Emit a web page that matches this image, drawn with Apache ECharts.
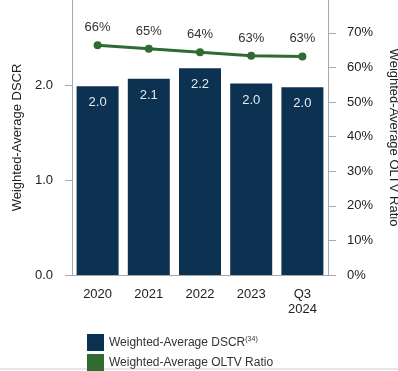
<!DOCTYPE html>
<html>
<head>
<meta charset="utf-8">
<script src="https://cdn.jsdelivr.net/npm/echarts@6/dist/echarts.min.js"></script>
<style>
  html, body { margin: 0; padding: 0; background: #fff; }
  #chart { width: 398px; height: 371px; }
</style>
</head>
<body>
<div id="chart"></div>
<script>
// data
const categories = ["2020", "2021", "2022", "2023", "Q3\n2024"];
const dscrValues = [1.99, 2.07, 2.18, 2.02, 1.98];
const oltvValues = [66.4, 65.4, 64.4, 63.4, 63.2];
const dscrTicks = [0, 1, 2];
const oltvTicks = [0, 10, 20, 30, 40, 50, 60, 70];

const font = "Liberation Sans, Arial, sans-serif";
const axisGray = "#a8a8a8";

const legendBase = {
  left: 82,
  icon: "rect",
  itemWidth: 17,
  itemHeight: 17,
  itemGap: 10,
  textStyle: {
    fontFamily: font,
    fontSize: 12,
    color: "#333",
    rich: {
      sup: { fontSize: 7, color: "#333", padding: [0, 0, 7, 0] },
    },
  },
};

let chart = echarts.init(document.getElementById("chart"));
let option = {
  backgroundColor: "#fff",
  textStyle: { fontFamily: font },
  animation: false,
  grid: { left: 72, right: 70, top: 0, bottom: 96, containLabel: false, outerBoundsMode: "none" },
  legend: [
    Object.assign({}, legendBase, {
      top: 329,
      data: ["Weighted-Average DSCR"],
      formatter: (name) => name + "{sup|(34)}",
    }),
    Object.assign({}, legendBase, {
      top: 349,
      data: ["Weighted-Average OLTV Ratio"],
    }),
  ],
  xAxis: {
    type: "category",
    data: categories,
    axisTick: { show: false },
    axisLine: { lineStyle: { color: axisGray, width: 1 } },
    axisLabel: {
      color: "#222",
      fontSize: 13,
      lineHeight: 15,
      margin: 12,
      fontFamily: font,
    },
  },
  yAxis: [
    {
      type: "value",
      min: 0,
      max: 2.9,
      interval: 1,
      name: "Weighted-Average DSCR",
      nameLocation: "middle",
      nameGap: 48,
      nameRotate: 90,
      nameTextStyle: { fontSize: 13, color: "#222", fontFamily: font },
      splitLine: { show: false },
      axisLine: { show: true, lineStyle: { color: axisGray } },
      axisTick: { show: true, length: 7, lineStyle: { color: axisGray }, customValues: dscrTicks },
      axisLabel: {
        color: "#222",
        fontSize: 13,
        margin: 19,
        customValues: dscrTicks,
        formatter: (v) => v.toFixed(1),
      },
    },
    {
      type: "value",
      min: 0,
      max: 79.5,
      interval: 10,
      position: "right",
      name: "Weighted-Average OLTV Ratio",
      nameLocation: "middle",
      nameGap: 59,
      nameRotate: -90,
      nameTextStyle: { fontSize: 13, color: "#222", fontFamily: font },
      splitLine: { show: false },
      axisLine: { show: true, lineStyle: { color: axisGray } },
      axisTick: { show: true, length: 8, lineStyle: { color: axisGray }, customValues: oltvTicks },
      axisLabel: {
        color: "#222",
        fontSize: 13,
        margin: 19,
        customValues: oltvTicks,
        formatter: (v) => v + "%",
      },
    },
  ],
  series: [
    {
      name: "Weighted-Average DSCR",
      type: "bar",
      data: dscrValues,
      yAxisIndex: 0,
      barWidth: 42,
      itemStyle: { color: "#0d3150" },
      label: {
        show: true,
        position: "insideTop",
        distance: 10,
        color: "#e4ebf2",
        fontSize: 13,
        formatter: (p) => p.value.toFixed(1),
      },
    },
    {
      name: "Weighted-Average OLTV Ratio",
      type: "line",
      data: oltvValues,
      yAxisIndex: 1,
      symbol: "circle",
      symbolSize: 8,
      lineStyle: { color: "#2f6b32", width: 3 },
      itemStyle: { color: "#2f6b32" },
      label: {
        show: true,
        position: "top",
        distance: 7,
        color: "#333",
        fontSize: 13,
        formatter: (p) => Math.round(p.value) + "%",
      },
    },
  ],
  graphic: [
    {
      type: "rect",
      left: 0,
      top: 368,
      shape: { width: 398, height: 2 },
      style: { fill: "#e6e6e6" },
    },
  ],
};
chart.setOption(option, true);
</script>
</body>
</html>
